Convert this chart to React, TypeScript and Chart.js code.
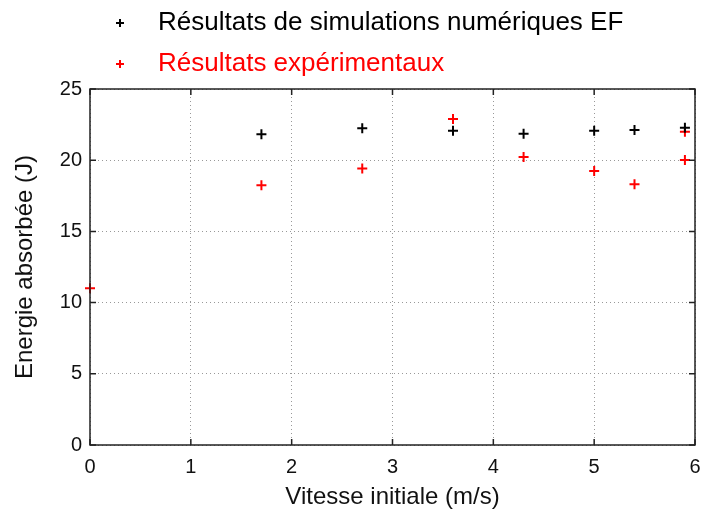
import React, { useEffect, useRef } from "react";
import { Chart, registerables } from "chart.js";

Chart.register(...registerables);

const simSpeeds = [1.7, 2.7, 3.6, 4.3, 5.0, 5.4, 5.9];
const simEnergy = [21.82, 22.24, 22.07, 21.86, 22.07, 22.12, 22.28];
const expSpeeds = [0, 1.7, 2.7, 3.6, 4.3, 5.0, 5.4, 5.9, 5.9];
const expEnergy = [11.0, 18.24, 19.41, 22.89, 20.22, 19.24, 18.31, 22.0, 20.01];
const seriesLabels = ["Résultats de simulations numériques EF", "Résultats expérimentaux"];
const xTitle = "Vitesse initiale (m/s)";
const yTitle = "Energie absorbée (J)";

const FONT = "'Liberation Sans', Arial, sans-serif";

const framePlugin = {
  id: "frame",
  afterDraw(chart: any) {
    const { ctx, chartArea } = chart;
    const { left, right, top, bottom } = chartArea;
    const xs = chart.scales.x;
    const ys = chart.scales.y;
    ctx.save();
    ctx.strokeStyle = "#222";
    ctx.lineWidth = 1.5;
    ctx.strokeRect(left, top, right - left, bottom - top);
    const tl = 6;
    ctx.beginPath();
    xs.ticks.forEach((t: any) => {
      const x = xs.getPixelForValue(t.value);
      ctx.moveTo(x, bottom);
      ctx.lineTo(x, bottom - tl);
      ctx.moveTo(x, top);
      ctx.lineTo(x, top + tl);
    });
    ys.ticks.forEach((t: any) => {
      const y = ys.getPixelForValue(t.value);
      ctx.moveTo(left, y);
      ctx.lineTo(left + tl, y);
      ctx.moveTo(right, y);
      ctx.lineTo(right - tl, y);
    });
    ctx.stroke();

    // legend
    const rows = [23, 64];
    chart.data.datasets.forEach((ds: any, i: number) => {
      const y = rows[i];
      const cx = 120;
      ctx.strokeStyle = ds.borderColor;
      ctx.lineWidth = 2;
      ctx.beginPath();
      ctx.moveTo(cx - 4, y);
      ctx.lineTo(cx + 4, y);
      ctx.moveTo(cx, y - 4);
      ctx.lineTo(cx, y + 4);
      ctx.stroke();
      ctx.fillStyle = ds.borderColor;
      ctx.font = "26px " + FONT;
      ctx.textBaseline = "middle";
      ctx.textAlign = "left";
      ctx.fillText(ds.label, 158, y);
    });
    ctx.restore();
  },
};

export default function App() {
  const ref = useRef<HTMLCanvasElement>(null);
  useEffect(() => {
    if (!ref.current) return;
    const chart = new Chart(ref.current, {
      type: "scatter",
      data: {
        datasets: [
          {
            label: seriesLabels[0],
            data: simSpeeds.map((x, i) => ({ x, y: simEnergy[i] })),
            borderColor: "#000000",
            backgroundColor: "#000000",
            pointStyle: "cross",
            pointRadius: 5,
            borderWidth: 2,
            clip: false,
          },
          {
            label: seriesLabels[1],
            data: expSpeeds.map((x, i) => ({ x, y: expEnergy[i] })),
            borderColor: "#ff0000",
            backgroundColor: "#ff0000",
            pointStyle: "cross",
            pointRadius: 5,
            borderWidth: 2,
            clip: false,
          },
        ],
      },
      options: {
        animation: false,
        responsive: false,
        devicePixelRatio: 1,
        layout: { padding: { top: 89, right: 10, left: 0, bottom: 0 } },
        plugins: { legend: { display: false }, tooltip: { enabled: false } },
        scales: {
          x: {
            type: "linear",
            min: 0,
            max: 6,
            ticks: { stepSize: 1, color: "#111", padding: 10, font: { family: FONT, size: 20 } },
            grid: { color: "#999", drawTicks: false },
            border: { display: false, dash: [1, 3] },
            title: { display: true, text: xTitle, color: "#111", font: { family: FONT, size: 24, lineHeight: 1.1 }, padding: { top: 0, bottom: 1 } },
            afterFit: (s: any) => { s.height = 67; s.paddingLeft = 0; s.paddingRight = 0; },
          },
          y: {
            type: "linear",
            min: 0,
            max: 25,
            ticks: { stepSize: 5, color: "#111", padding: 8, font: { family: FONT, size: 20 } },
            grid: { color: "#999", drawTicks: false },
            border: { display: false, dash: [1, 3] },
            title: { display: true, text: yTitle, color: "#111", font: { family: FONT, size: 24 }, padding: { top: 11, bottom: 0 } },
            afterFit: (s: any) => { s.width = 90; s.paddingTop = 0; s.paddingBottom = 0; },
          },
        },
      },
      plugins: [framePlugin],
    });
    return () => chart.destroy();
  }, []);
  return (
    <div style={{ position: "fixed", left: 0, top: 0, width: 705, height: 512, background: "#fff" }}>
      <canvas ref={ref} width={705} height={512} style={{ width: 705, height: 512 }} />
    </div>
  );
}
